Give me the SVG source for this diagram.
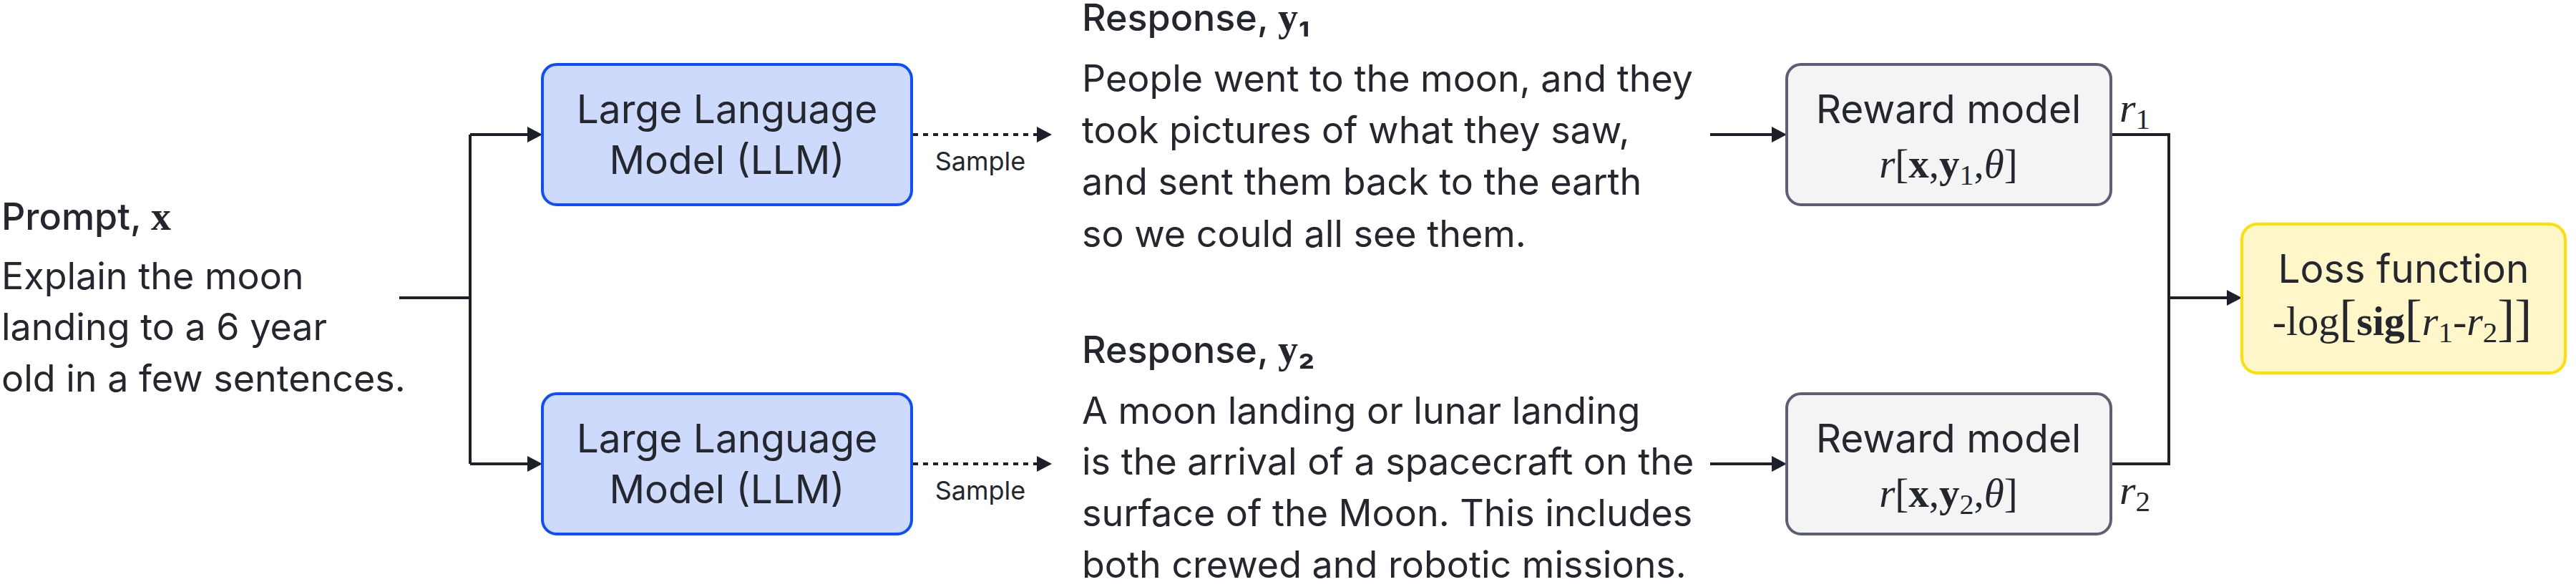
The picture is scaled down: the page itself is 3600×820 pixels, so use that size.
<svg xmlns="http://www.w3.org/2000/svg" width="3600" height="820" viewBox="0 0 3600 820">
<defs>
<style>
.t{font-family:Inter,"Noto Sans","Liberation Sans",sans-serif;fill:#25272f}
.h{font-size:52px;font-weight:500}
.b{font-size:52px}
.n{font-size:55px}
.s{font-size:36px}
.m{font-family:"Liberation Serif","DejaVu Serif",serif;fill:#25272f}
.line{fill:none;stroke:#1e2029;stroke-width:4}
.dot{fill:none;stroke:#1e2029;stroke-width:4;stroke-dasharray:7 7}
.llm{fill:#cddafc;stroke:#0d4dff;stroke-width:4}
.rm{fill:#f4f4f5;stroke:#5c6075;stroke-width:4}
.loss{fill:#fff7c9;stroke:#fedf00;stroke-width:4}
</style>
<marker id="ah" markerUnits="userSpaceOnUse" markerWidth="22" markerHeight="22" refX="0" refY="11" orient="auto">
<path d="M0,0 L21,11 L0,22 z" fill="#1e2029"/>
</marker>
</defs>
<rect width="3600" height="820" fill="#ffffff"/>

<g id="connectors">
<path class="line" d="M558,416 H657"/>
<path class="line" d="M657,188 V648"/>
<path class="line" d="M657,188 H737" marker-end="url(#ah)"/>
<path class="line" d="M657,648 H737" marker-end="url(#ah)"/>
<path class="dot" d="M1276,188 H1449" marker-end="url(#ah)"/>
<path class="dot" d="M1276,648 H1449" marker-end="url(#ah)"/>
<path class="line" d="M2390,188 H2476" marker-end="url(#ah)"/>
<path class="line" d="M2390,648 H2476" marker-end="url(#ah)"/>
<path class="line" d="M2952,188 H3031 V648 H2952"/>
<path class="line" d="M3031,416 H3112" marker-end="url(#ah)"/>
<text class="t s" x="1370" y="238" text-anchor="middle">Sample</text>
<text class="t s" x="1370" y="698" text-anchor="middle">Sample</text>
<text class="m" x="2962" y="170" font-size="58"><tspan font-style="italic">r</tspan><tspan font-size="41" dy="10">1</tspan></text>
<text class="m" x="2962" y="704" font-size="58"><tspan font-style="italic">r</tspan><tspan font-size="41" dy="10">2</tspan></text>
</g>

<g id="prompt">
<text class="t h" x="2" y="321">Prompt, <tspan class="m" font-weight="bold" font-size="56">x</tspan></text>
<text class="t b" x="2" y="404">Explain the moon</text>
<text class="t b" x="2" y="475">landing to a 6 year</text>
<text class="t b" x="2" y="547">old in a few sentences.</text>
</g>

<g id="llm1">
<rect class="llm" x="758" y="90" width="516" height="196" rx="20"/>
<text class="t n" x="1016" y="172" text-anchor="middle">Large Language</text>
<text class="t n" x="1016" y="243" text-anchor="middle">Model (LLM)</text>
</g>

<g id="llm2">
<rect class="llm" x="758" y="550" width="516" height="196" rx="20"/>
<text class="t n" x="1016" y="632" text-anchor="middle">Large Language</text>
<text class="t n" x="1016" y="703" text-anchor="middle">Model (LLM)</text>
</g>

<g id="response1">
<text class="t h" x="1512" y="43">Response, <tspan class="m" font-weight="bold" font-size="56">y</tspan><tspan font-weight="600">₁</tspan></text>
<text class="t b" x="1512" y="128">People went to the moon, and they</text>
<text class="t b" x="1512" y="200">took pictures of what they saw,</text>
<text class="t b" x="1512" y="272">and sent them back to the earth</text>
<text class="t b" x="1512" y="345">so we could all see them.</text>
</g>

<g id="response2">
<text class="t h" x="1512" y="507">Response, <tspan class="m" font-weight="bold" font-size="56">y</tspan><tspan font-weight="600">₂</tspan></text>
<text class="t b" x="1512" y="592">A moon landing or lunar landing</text>
<text class="t b" x="1512" y="663">is the arrival of a spacecraft on the</text>
<text class="t b" x="1512" y="735">surface of the Moon. This includes</text>
<text class="t b" x="1512" y="807">both crewed and robotic missions.</text>
</g>

<g id="reward1">
<rect class="rm" x="2497" y="90" width="453" height="196" rx="20"/>
<text class="t n" x="2723" y="172" text-anchor="middle">Reward model</text>
<text class="m" x="2723" y="248" font-size="57" text-anchor="middle"><tspan font-style="italic">r</tspan>[<tspan font-weight="bold">x</tspan>,<tspan font-weight="bold">y</tspan><tspan font-size="40" dy="10">1</tspan><tspan dy="-10">,</tspan><tspan font-style="italic">θ</tspan>]</text>
</g>

<g id="reward2">
<rect class="rm" x="2497" y="550" width="453" height="196" rx="20"/>
<text class="t n" x="2723" y="632" text-anchor="middle">Reward model</text>
<text class="m" x="2723" y="708" font-size="57" text-anchor="middle"><tspan font-style="italic">r</tspan>[<tspan font-weight="bold">x</tspan>,<tspan font-weight="bold">y</tspan><tspan font-size="40" dy="10">2</tspan><tspan dy="-10">,</tspan><tspan font-style="italic">θ</tspan>]</text>
</g>

<g id="loss">
<rect class="loss" x="3133" y="313" width="452" height="208" rx="22"/>
<text class="t n" x="3359" y="395" text-anchor="middle">Loss function</text>
<text class="m" x="3357" y="468" font-size="58" text-anchor="middle">-log<tspan font-size="72">[</tspan><tspan font-weight="bold">sig</tspan><tspan font-size="72">[</tspan><tspan font-style="italic">r</tspan><tspan font-size="41" dy="10">1</tspan><tspan dy="-10">-</tspan><tspan font-style="italic">r</tspan><tspan font-size="41" dy="10">2</tspan><tspan font-size="72" dy="-10">]]</tspan></text>
</g>
</svg>
